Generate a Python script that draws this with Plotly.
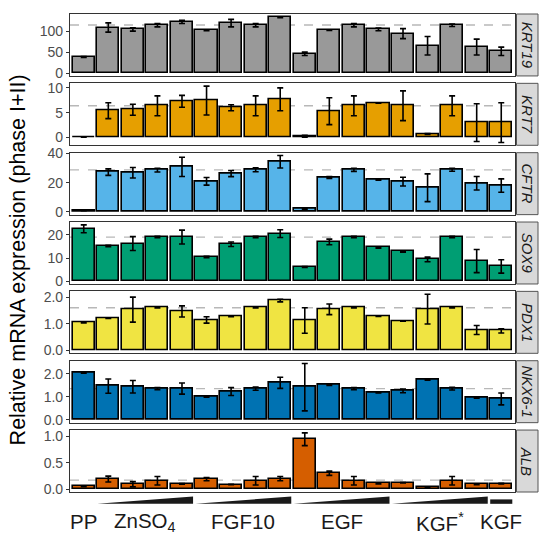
import plotly.graph_objects as go
from plotly.subplots import make_subplots

# ---------------- data ----------------
genes = ["KRT19", "KRT7", "CFTR", "SOX9", "PDX1", "NKX6-1", "ALB"]
colors = ["#999999", "#E69F00", "#56B4E9", "#009E73", "#F0E442", "#0072B2", "#D55E00"]
positions = list(range(18))  # 18 conditions

krt19 = [38.5, 108.5, 104, 114, 122, 102, 119, 114, 133, 46, 102, 114, 104, 94, 65, 114, 62, 52]
krt19_err = [1, 11, 4, 4, 4, 1, 9, 4, 1, 4, 0.5, 4, 3, 12, 22, 3, 19, 10]
krt7 = [0.1, 5.4, 5.6, 6.4, 7.3, 7.45, 6.0, 6.4, 7.7, 0.25, 5.3, 6.4, 6.95, 6.4, 0.7, 6.4, 3.0, 3.0]
krt7_err = [0.05, 1.6, 1.1, 2.0, 1.2, 2.9, 0.6, 2.0, 2.3, 0.2, 2.7, 2.0, 0.05, 3.0, 0.1, 2.0, 3.8, 4.0]
cftr = [0.9, 27.2, 26.8, 28.6, 30.8, 20.9, 26.2, 28.8, 34.3, 2.0, 23.5, 28.8, 22.0, 20.7, 16.5, 28.8, 19.6, 18.0]
cftr_err = [0.2, 2.2, 3.6, 1.3, 6.6, 2.6, 2.1, 1.3, 4.3, 0.3, 0.6, 1.1, 0.3, 3.0, 9.5, 1.0, 4.6, 4.6]
sox9 = [22.7, 15.2, 16.3, 19.1, 19.1, 10.5, 16.0, 19.1, 20.6, 6.1, 17.0, 19.1, 14.6, 12.9, 9.4, 19.1, 8.7, 6.4]
sox9_err = [1.7, 0.3, 3.0, 0.3, 3.0, 0.3, 1.0, 0.3, 1.7, 0.2, 1.2, 0.3, 0.3, 0.3, 1.0, 0.3, 5.0, 2.9]
pdx1 = [1.06, 1.22, 1.54, 1.61, 1.47, 1.15, 1.28, 1.61, 1.88, 1.13, 1.55, 1.61, 1.29, 1.11, 1.56, 1.61, 0.77, 0.74]
pdx1_err = [0.02, 0.01, 0.47, 0.01, 0.21, 0.12, 0.01, 0.01, 0.05, 0.48, 0.2, 0.01, 0.01, 0.01, 0.56, 0.01, 0.17, 0.08]
nkx61 = [2.05, 1.47, 1.44, 1.36, 1.36, 1.0, 1.23, 1.36, 1.61, 1.42, 1.51, 1.36, 1.18, 1.26, 1.76, 1.36, 0.97, 0.91]
nkx61_err = [0.02, 0.31, 0.27, 0.05, 0.24, 0.01, 0.17, 0.07, 0.24, 1.03, 0.01, 0.05, 0.01, 0.08, 0.03, 0.06, 0.03, 0.26]
alb = [0.056, 0.19, 0.093, 0.16, 0.1, 0.19, 0.087, 0.16, 0.2, 0.94, 0.3, 0.16, 0.11, 0.12, 0.037, 0.16, 0.093, 0.105]
alb_err = [0.01, 0.055, 0.05, 0.08, 0.005, 0.03, 0.003, 0.08, 0.04, 0.12, 0.04, 0.08, 0.01, 0.003, 0.01, 0.08, 0.01, 0.005]

values = [krt19, krt7, cftr, sox9, pdx1, nkx61, alb]
errors = [krt19_err, krt7_err, cftr_err, sox9_err, pdx1_err, nkx61_err, alb_err]
ref_values = [114.5, 6.4, 28.8, 19.1, 1.61, 1.36, 0.17]
tick_values = [[0, 50, 100], [0, 5, 10], [0, 20, 40], [0, 10, 20],
               [0, 1, 2], [0, 1, 2], [0, 0.5, 1]]
tick_formats = ["d", "d", "d", "d", ".1f", ".1f", ".1f"]

# groups: label, first bar, last bar, marker type
groups = [("PP", 0, 0, "none"),
          ("ZnSO<sub>4</sub>", 1, 4, "ramp"),
          ("FGF10", 5, 8, "ramp"),
          ("EGF", 9, 12, "ramp"),
          ("KGF<sup>*</sup>", 13, 16, "ramp"),
          ("KGF", 17, 17, "bar")]

# ---------------- figure ----------------
W, H = 542, 540
ml, mr, mt, mb = 70, 27, 7, 48
plot_h = H - mt - mb
plot_w = W - ml - mr
n = len(genes)
gap_px = 7.5

fig = make_subplots(rows=n, cols=1, shared_xaxes=True, vertical_spacing=gap_px / plot_h)

FONT = "Liberation Sans, Arial, sans-serif"

for i in range(n):
    r = i + 1
    fig.add_trace(go.Bar(
        x=positions, y=values[i], width=0.9,
        marker=dict(color=colors[i], line=dict(color="black", width=1.6)),
        error_y=dict(type="data", array=errors[i], color="black", thickness=1.6, width=3),
        showlegend=False, hoverinfo="skip",
    ), row=r, col=1)
    lows = [v - e for v, e in zip(values[i], errors[i])]
    highs = [v + e for v, e in zip(values[i], errors[i])]
    lo = min(0, min(lows))
    hi = max(highs)
    span = hi - lo
    fig.update_yaxes(range=[lo - 0.05 * span, hi + 0.05 * span],
                     tickvals=tick_values[i], tickformat=tick_formats[i],
                     row=r, col=1)
    sfx = "" if r == 1 else str(r)
    # dashed reference line
    fig.add_shape(type="line", xref=f"x{sfx} domain", x0=0, x1=1,
                  yref=f"y{sfx}", y0=ref_values[i], y1=ref_values[i],
                  line=dict(color="#b8b8b8", width=1.3, dash="dash"), layer="below")
    # strip
    sx0 = 1 + 1.5 / plot_w
    sx1 = 1 + 23 / plot_w
    fig.add_shape(type="rect", xref="paper", x0=sx0, x1=sx1,
                  yref=f"y{sfx} domain", y0=0, y1=1,
                  fillcolor="#d9d9d9", line=dict(color="#555555", width=1))
    fig.add_annotation(text=f"<i>{genes[i]}</i>", xref="paper", x=(sx0 + sx1) / 2,
                       yref=f"y{sfx} domain", y=0.5, textangle=90, showarrow=False,
                       font=dict(family=FONT, size=15, color="#1a1a1a"),
                       xanchor="center", yanchor="middle")

fig.update_xaxes(range=[-0.56, 17.56], showticklabels=False, ticks="",
                 showline=True, mirror=True, linecolor="#333333", linewidth=1.2,
                 showgrid=False, zeroline=False)
fig.update_yaxes(showline=True, mirror=True, linecolor="#333333", linewidth=1.2,
                 showgrid=False, zeroline=False, ticks="outside", ticklen=3,
                 tickcolor="#333333", tickwidth=1,
                 tickfont=dict(family=FONT, size=14, color="#4d4d4d"))

# bottom condition markers and labels
def py(px):
    return (H - mb - px) / plot_h

for label, a, b, kind in groups:
    x0 = a - 0.45
    x1 = b + 0.45
    if kind == "ramp":
        fig.add_shape(type="path", xref="x7", yref="paper",
                      path=f"M {x0},{py(504)} L {x1},{py(504)} L {x1},{py(496.5)} Z",
                      fillcolor="#1a1a1a", line=dict(width=0))
    elif kind == "bar":
        fig.add_shape(type="rect", xref="x7", yref="paper",
                      x0=x0, x1=x1, y0=py(504), y1=py(499.5),
                      fillcolor="#1a1a1a", line=dict(width=0))
    fig.add_annotation(text=label, xref="x7", x=(a + b) / 2, yref="paper", y=py(522),
                       showarrow=False, xanchor="center", yanchor="middle",
                       font=dict(family=FONT, size=20.5, color="#1a1a1a"))

fig.add_annotation(text="Relative mRNA expression (phase I+II)", xref="paper",
                   x=(18 - ml) / plot_w, yref="paper", y=py(257), textangle=-90,
                   showarrow=False, xanchor="center", yanchor="middle",
                   font=dict(family=FONT, size=21.5, color="black"))

fig.update_layout(width=W, height=H, margin=dict(l=ml, r=mr, t=mt, b=mb),
                  plot_bgcolor="white", paper_bgcolor="white", bargap=0,
                  font=dict(family=FONT), hovermode=False)

fig.write_html("out.html", config={"displayModeBar": False},
               post_script="document.body.style.margin='0';document.body.style.overflow='hidden';")
